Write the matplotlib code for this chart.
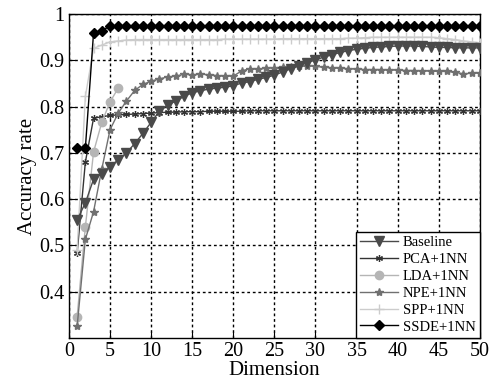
import matplotlib
matplotlib.use("Agg")
import matplotlib.pyplot as plt
import numpy as np

plt.rcParams['font.family'] = ['Liberation Serif', 'DejaVu Serif']

dims = list(range(1, 51))

baseline = [0.555, 0.592, 0.643, 0.655, 0.670, 0.685, 0.700, 0.720, 0.742, 0.766,
            0.790, 0.803, 0.812, 0.822, 0.830, 0.834, 0.838, 0.840, 0.842, 0.845,
            0.851, 0.854, 0.859, 0.863, 0.868, 0.875, 0.882, 0.888, 0.895, 0.901,
            0.907, 0.912, 0.917, 0.921, 0.924, 0.926, 0.928, 0.929, 0.930, 0.931,
            0.931, 0.931, 0.930, 0.929, 0.928, 0.928, 0.927, 0.927, 0.927, 0.927]

pca = [0.483, 0.680, 0.775, 0.778, 0.781, 0.782, 0.783, 0.784, 0.785, 0.786,
       0.787, 0.788, 0.788, 0.789, 0.789, 0.789, 0.790, 0.790, 0.790, 0.790,
       0.790, 0.791, 0.791, 0.791, 0.791, 0.791, 0.791, 0.791, 0.791, 0.791,
       0.791, 0.791, 0.791, 0.791, 0.791, 0.791, 0.791, 0.791, 0.791, 0.791,
       0.791, 0.791, 0.791, 0.791, 0.791, 0.791, 0.791, 0.791, 0.791, 0.791]

lda_dims = [1, 2, 3, 4, 5, 6]
lda = [0.346, 0.540, 0.702, 0.766, 0.810, 0.840]

npe = [0.325, 0.513, 0.573, 0.665, 0.750, 0.786, 0.812, 0.835, 0.848, 0.855,
       0.860, 0.864, 0.866, 0.870, 0.869, 0.870, 0.869, 0.867, 0.866, 0.866,
       0.877, 0.882, 0.881, 0.883, 0.884, 0.885, 0.886, 0.887, 0.888, 0.887,
       0.885, 0.884, 0.883, 0.882, 0.881, 0.880, 0.880, 0.880, 0.879, 0.879,
       0.878, 0.878, 0.877, 0.877, 0.876, 0.876, 0.874, 0.871, 0.872, 0.873]

spp = [0.490, 0.822, 0.926, 0.933, 0.940, 0.942, 0.944, 0.945, 0.945, 0.945,
       0.945, 0.945, 0.945, 0.945, 0.945, 0.945, 0.945, 0.945, 0.946, 0.946,
       0.946, 0.946, 0.946, 0.946, 0.946, 0.947, 0.947, 0.947, 0.947, 0.947,
       0.947, 0.947, 0.947, 0.948, 0.948, 0.949, 0.950, 0.950, 0.950, 0.950,
       0.950, 0.950, 0.950, 0.950, 0.949, 0.947, 0.945, 0.942, 0.940, 0.938]

ssde = [0.710, 0.710, 0.960, 0.963] + [0.975] * 46

fig = plt.figure(figsize=(5.03, 3.81), dpi=100)
ax = fig.add_axes([0.137, 0.113, 0.817, 0.850])

ax.plot(dims, baseline, color='#4a4a4a', marker='v', markersize=6.5,
        linewidth=1.0, label='Baseline', zorder=4)
ax.plot(dims, pca, color='#333333', marker=(6, 2, 0), markersize=5,
        markeredgewidth=0.9, linewidth=1.0, label='PCA+1NN', zorder=3)
ax.plot(lda_dims, lda, color='#b5b5b5', marker='o', markersize=6,
        linewidth=1.0, label='LDA+1NN', zorder=3)
ax.plot(dims, npe, color='#707070', marker='*', markersize=6,
        linewidth=1.0, label='NPE+1NN', zorder=3)
ax.plot(dims, spp, color='#cccccc', marker='+', markersize=7,
        markeredgewidth=1.0, linewidth=1.0, label='SPP+1NN', zorder=3)
ax.plot(dims, ssde, color='black', marker='D', markersize=5,
        linewidth=1.0, label='SSDE+1NN', zorder=5)

ax.set_xlim(0, 50)
ax.set_ylim(0.3, 1.0)
ax.set_xticks(range(0, 51, 5))
ax.set_yticks([0.4, 0.5, 0.6, 0.7, 0.8, 0.9, 1.0])
ax.set_yticklabels(['0.4', '0.5', '0.6', '0.7', '0.8', '0.9', '1'])
ax.tick_params(direction='in', labelsize=14.5, length=4, width=0.8, pad=3)
ax.grid(True, color='black', linestyle=(0, (2.0, 2.0)), linewidth=1.0)
for s in ax.spines.values():
    s.set_linewidth(1.0)

ax.set_xlabel('Dimension', fontsize=15, labelpad=0)
ax.set_ylabel('Accuracy rate', fontsize=15, labelpad=2)

leg = ax.legend(loc='lower right', fontsize=10.5, frameon=True, fancybox=False,
                edgecolor='black', framealpha=1, borderaxespad=0.0,
                handlelength=2.6, labelspacing=0.25, borderpad=0.3,
                handletextpad=0.3)
leg.get_frame().set_linewidth(1.0)

fig.savefig('out.png', dpi=100)
